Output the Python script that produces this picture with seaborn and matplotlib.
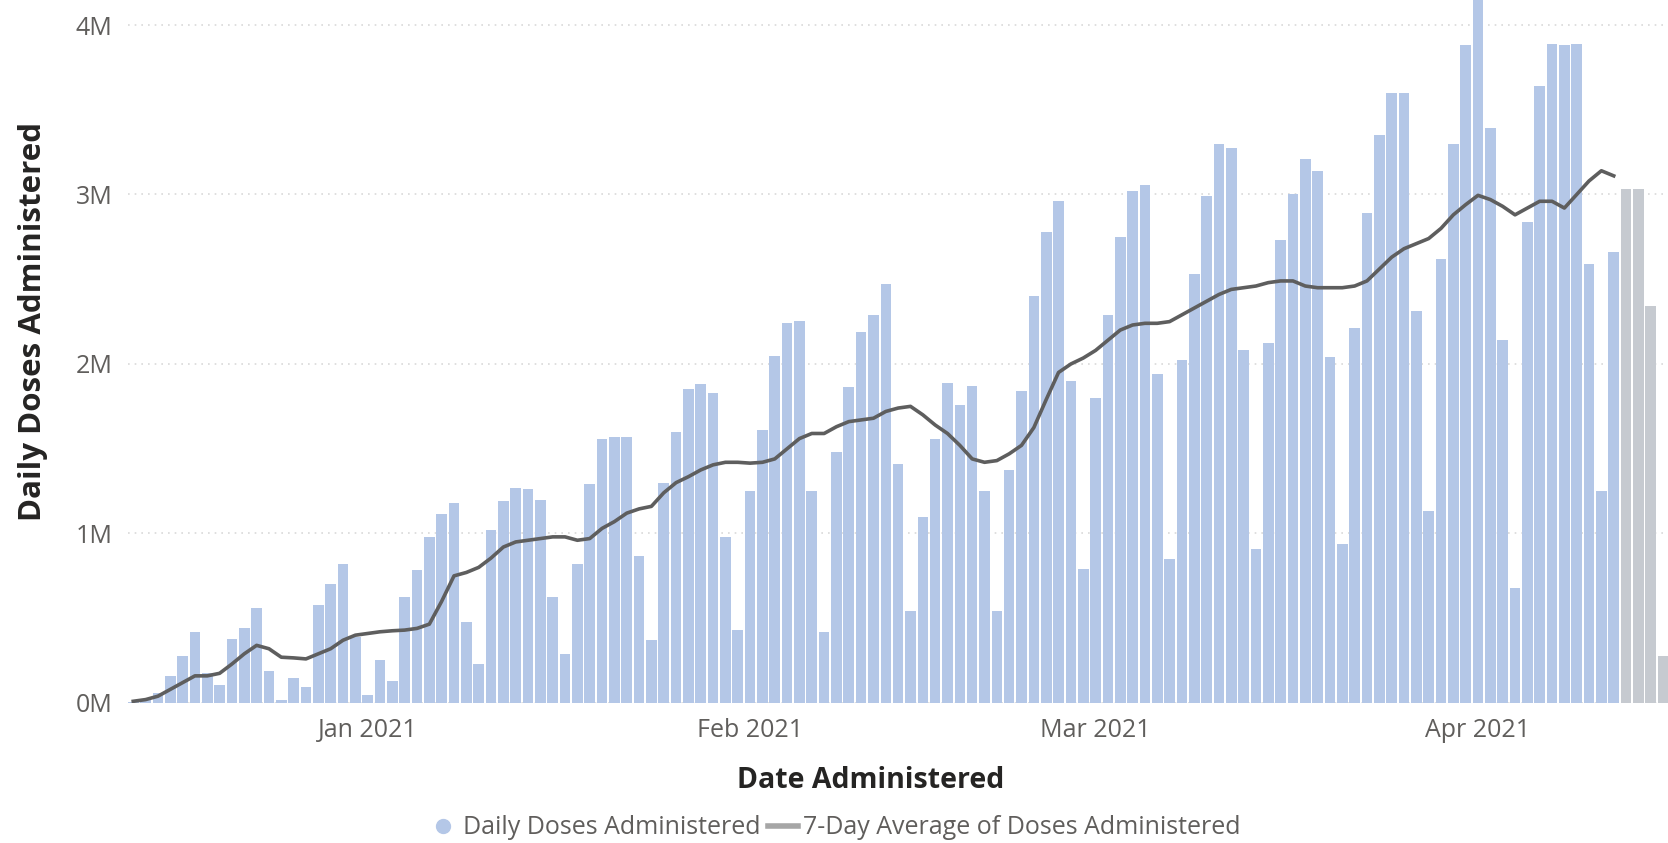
import matplotlib
matplotlib.use("Agg")
import matplotlib.pyplot as plt
from matplotlib.lines import Line2D
import numpy as np
import pandas as pd
import seaborn as sns

# daily doses (millions), one value per day starting 2020-12-13
start_date = "2020-12-13"
daily_doses = [
    0.005, 0.02, 0.06, 0.16, 0.28, 0.42, 0.175, 0.107, 0.38, 0.44,
    0.56, 0.19, 0.02, 0.146, 0.097, 0.577, 0.70, 0.82, 0.39, 0.05,
    0.256, 0.13, 0.627, 0.787, 0.98, 1.117, 1.18, 0.48, 0.23, 1.02,
    1.19, 1.27, 1.26, 1.20, 0.627, 0.29, 0.82, 1.29, 1.56, 1.57,
    1.57, 0.865, 0.373, 1.30, 1.60, 1.855, 1.88, 1.83, 0.98, 0.43,
    1.25, 1.61, 2.05, 2.24, 2.255, 1.25, 0.42, 1.48, 1.865, 2.19,
    2.29, 2.47, 1.41, 0.54, 1.10, 1.556, 1.885, 1.76, 1.87, 1.25,
    0.54, 1.375, 1.84, 2.40, 2.78, 2.96, 1.90, 0.79, 1.80, 2.29,
    2.75, 3.02, 3.055, 1.94, 0.85, 2.025, 2.53, 2.99, 3.30, 3.275,
    2.08, 0.91, 2.125, 2.73, 3.00, 3.21, 3.14, 2.04, 0.94, 2.21,
    2.89, 3.35, 3.60, 3.60, 2.31, 1.13, 2.62, 3.30, 3.88, 4.15,
    3.39, 2.14, 0.68, 2.84, 3.64, 3.89, 3.88, 3.89, 2.59, 1.25,
    2.66, 3.03, 3.03, 2.34, 0.28,
]
# last days are still incomplete (grey bars)
n_incomplete = 4

# 7-day average line (millions)
avg_doses = [
    0.01, 0.02, 0.04, 0.08, 0.12, 0.16, 0.16, 0.175, 0.23, 0.29,
    0.34, 0.32, 0.27, 0.266, 0.26, 0.29, 0.32, 0.37, 0.40, 0.41,
    0.42, 0.426, 0.43, 0.44, 0.465, 0.60, 0.75, 0.77, 0.80, 0.855,
    0.92, 0.95, 0.96, 0.97, 0.98, 0.98, 0.96, 0.97, 1.03, 1.07,
    1.12, 1.145, 1.16, 1.24, 1.30, 1.335, 1.375, 1.405, 1.42, 1.42,
    1.415, 1.42, 1.44, 1.50, 1.56, 1.59, 1.59, 1.63, 1.66, 1.67,
    1.68, 1.72, 1.74, 1.75, 1.70, 1.64, 1.59, 1.52, 1.44, 1.42,
    1.43, 1.47, 1.52, 1.625, 1.79, 1.95, 2.00, 2.035, 2.08, 2.14,
    2.20, 2.23, 2.24, 2.24, 2.25, 2.29, 2.33, 2.37, 2.41, 2.44,
    2.45, 2.46, 2.48, 2.49, 2.49, 2.46, 2.45, 2.45, 2.45, 2.46,
    2.49, 2.56, 2.63, 2.68, 2.71, 2.74, 2.80, 2.88, 2.94, 2.995,
    2.97, 2.93, 2.88, 2.92, 2.96, 2.96, 2.92, 3.00, 3.08, 3.14,
    3.11,
]

month_ticks = ["2021-01-01", "2021-02-01", "2021-03-01", "2021-04-01"]
month_labels = ["Jan 2021", "Feb 2021", "Mar 2021", "Apr 2021"]
y_ticks = [0, 1, 2, 3, 4]

BAR_BLUE = "#B4C7E7"
BAR_GREY = "#C6CAD0"
LINE_GREY = "#5E5E5E"
TEXT_GREY = "#605E5C"

dates = pd.date_range(start_date, periods=len(daily_doses), freq="D")
status = ["complete"] * (len(daily_doses) - n_incomplete) + ["incomplete"] * n_incomplete
df = pd.DataFrame({"day": np.arange(len(dates)), "doses": daily_doses, "status": status})
avg_df = pd.DataFrame({"day": np.arange(len(avg_doses)), "avg": avg_doses})

plt.rcParams["font.family"] = ["Open Sans", "DejaVu Sans"]

fig = plt.figure(figsize=(16.68, 8.43), dpi=100)
ax = fig.add_axes([0.0767, 0.1661, 0.9233, 0.834])

sns.barplot(data=df, x="day", y="doses", hue="status",
            palette={"complete": BAR_BLUE, "incomplete": BAR_GREY},
            dodge=False, width=0.86, saturation=1, errorbar=None,
            linewidth=0, legend=False, ax=ax)
sns.lineplot(data=avg_df, x="day", y="avg", color=LINE_GREY, lw=2.6, ax=ax)

ax.set_xlim(-0.43, 124.4)
ax.set_ylim(0, 4.148)

tick_pos = [dates.get_loc(pd.Timestamp(d)) for d in month_ticks]
ax.set_xticks(tick_pos)
ax.set_xticklabels(month_labels)
ax.set_yticks(y_ticks)
ax.set_yticklabels([f"{v}M" for v in y_ticks])
ax.tick_params(axis="x", length=0, pad=11, labelsize=18, labelcolor=TEXT_GREY)
ax.tick_params(axis="y", length=0, pad=11, labelsize=18, labelcolor=TEXT_GREY)

ax.yaxis.grid(True, linestyle=(0, (1, 3)), color="#D9D9D9", lw=1.2)
ax.set_axisbelow(True)
for s in ax.spines.values():
    s.set_visible(False)

ax.set_xlabel("Date Administered", fontsize=20.5, fontweight="bold", color="#252423")
ax.xaxis.set_label_coords(0.482, -0.09)
ax.set_ylabel("Daily Doses Administered", fontsize=22.5, fontweight="bold", color="#252423")
ax.yaxis.set_label_coords(-0.052, 0.543)

handles = [
    Line2D([], [], marker="o", linestyle="none", markersize=10,
           markerfacecolor=BAR_BLUE, markeredgecolor=BAR_BLUE),
    Line2D([], [], color="#A6A6A6", lw=4),
]
fig.legend(handles, ["Daily Doses Administered", "7-Day Average of Doses Administered"],
           loc="center", bbox_to_anchor=(0.5, 0.018), ncol=2, frameon=False,
           fontsize=18, labelcolor=TEXT_GREY, handlelength=1.2,
           handletextpad=0.2, columnspacing=0.3)

fig.savefig("out.png", dpi=100)
